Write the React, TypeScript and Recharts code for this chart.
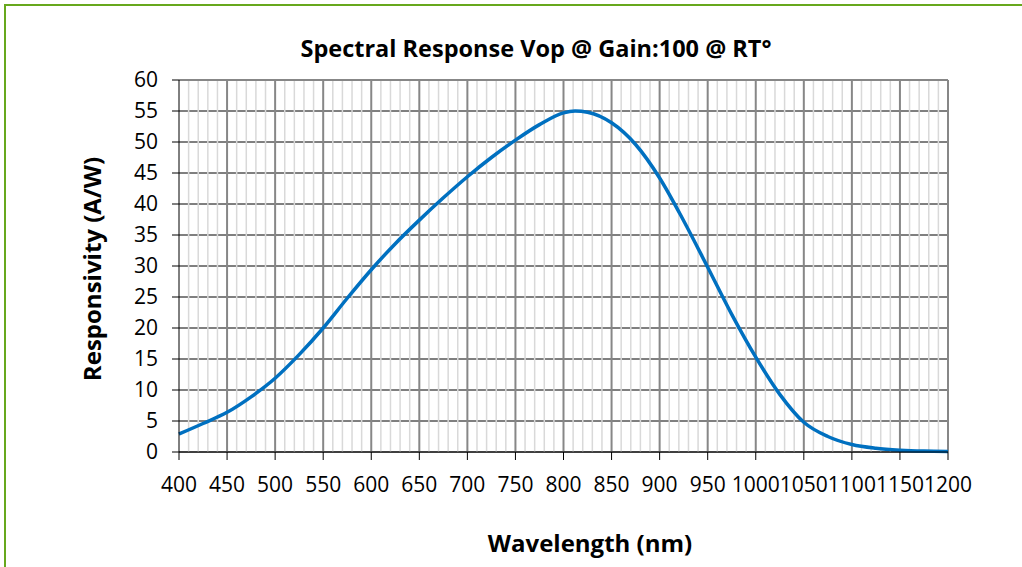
import React from 'react';
import { CartesianGrid, Line, LineChart, XAxis, YAxis } from 'recharts';

const wavelengths = [
  400, 425, 450, 475, 500, 525, 550, 575, 600, 625, 650, 675, 700, 725, 750, 775,
  800, 812, 825, 850, 875, 900, 925, 950, 975, 1000, 1025, 1050, 1075, 1100, 1125,
  1150, 1175, 1200,
];
const responsivity = [
  2.9, 4.6, 6.4, 8.9, 11.9, 15.7, 20.0, 24.8, 29.4, 33.6, 37.4, 41.0, 44.4, 47.5,
  50.3, 52.8, 54.7, 55.0, 54.8, 53.1, 49.6, 44.2, 37.3, 29.8, 22.2, 15.3, 9.3, 4.8,
  2.5, 1.2, 0.6, 0.3, 0.15, 0.1,
];

const xTicks = [400, 450, 500, 550, 600, 650, 700, 750, 800, 850, 900, 950, 1000, 1050, 1100, 1150, 1200];
const yTicks = [0, 5, 10, 15, 20, 25, 30, 35, 40, 45, 50, 55, 60];
const xMinor = xTicks.slice(0, -1).flatMap((t) => [t + 10, t + 20, t + 30, t + 40]);

const title = 'Spectral Response Vop @ Gain:100 @ RT°';
const xLabel = 'Wavelength (nm)';
const yLabel = 'Responsivity (A/W)';

const data = wavelengths.map((w, i) => ({ w, r: responsivity[i] }));

const font = "'Open Sans', sans-serif";
const tickStyle = { fontFamily: font, fontSize: 21, fill: '#000' };

export default function App() {
  return (
    <div style={{ position: 'absolute', left: 0, top: 0, width: 1022, height: 567, overflow: 'hidden', background: '#fff' }}>
      <div style={{ position: 'absolute', left: 4, top: 4, width: 1040, height: 590, border: '2px solid #67a81d' }} />
      <div style={{ position: 'absolute', left: 0, top: 0 }}>
        <LineChart width={1022} height={567} data={data} margin={{ top: 80, right: 74, left: 0, bottom: 55 }}>
          <CartesianGrid horizontal vertical={false} stroke='#000' horizontalValues={yTicks.slice(0, -1)} />
          <CartesianGrid horizontal={false} vertical stroke='#d9d9d9' strokeWidth={1.5} verticalValues={xMinor} />
          <CartesianGrid horizontal={false} vertical stroke='#878787' strokeWidth={2} verticalValues={xTicks.slice(1)} />
          <CartesianGrid horizontal vertical={false} stroke='#878787' strokeWidth={2} horizontalValues={[60]} />
          <XAxis
            dataKey='w'
            type='number'
            domain={[400, 1200]}
            ticks={xTicks}
            interval={0}
            height={60}
            tickSize={8}
            tickMargin={17}
            stroke='#000'
            tick={tickStyle}
          />
          <YAxis
            type='number'
            domain={[0, 60]}
            ticks={yTicks}
            interval={0}
            width={179}
            tickSize={7}
            tickMargin={14}
            stroke='#000'
            tick={tickStyle}
          />
          <Line
            type='monotone'
            dataKey='r'
            stroke='#0070c0'
            strokeWidth={3.5}
            dot={false}
            isAnimationActive={false}
          />
        </LineChart>
      </div>
      <svg width={1022} height={567} style={{ position: 'absolute', left: 0, top: 0, pointerEvents: 'none' }}>
        <text x={536} y={57} textAnchor='middle' fontFamily={font} fontWeight='bold' fontSize={23.5}>
          {title}
        </text>
        <text
          x={101}
          y={269}
          textAnchor='middle'
          fontFamily={font}
          fontWeight='bold'
          fontSize={24}
          transform='rotate(-90, 101, 269)'
        >
          {yLabel}
        </text>
        <text x={590} y={552} textAnchor='middle' fontFamily={font} fontWeight='bold' fontSize={24}>
          {xLabel}
        </text>
      </svg>
    </div>
  );
}
